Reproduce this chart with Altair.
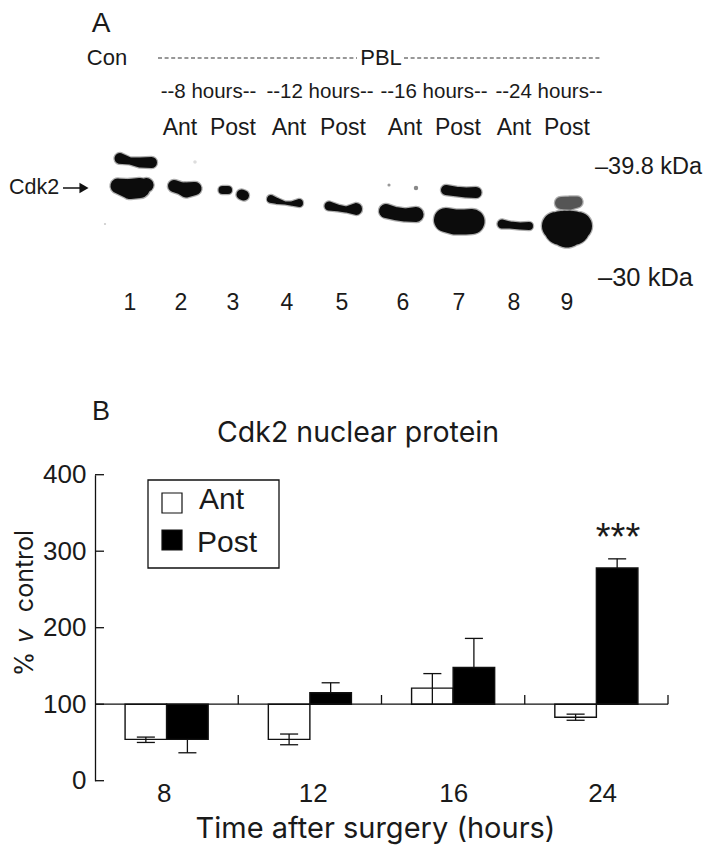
import altair as alt
import pandas as pd
import math

# ---------- Panel B values ----------
hours = ["8", "12", "16", "24"]
ant_values = [54, 54, 121, 83]
post_values = [54, 115, 148, 278]
ant_err_lo = [50, 47, 100, 79]
ant_err_hi = [57, 61, 140, 87]
post_err_lo = [36.5, 115, 148, 278]
post_err_hi = [54, 128, 186, 290]
cap_groups = [0, 0, 0, 1, 1, 1, 2, 2, 3, 3, 3]
cap_series = ["Ant", "Ant", "Post", "Ant", "Ant", "Post", "Ant", "Post", "Ant", "Ant", "Post"]
cap_values = [57, 50, 36.5, 61, 47, 128, 140, 186, 87, 79, 290]
y_ticks = [0, 100, 200, 300, 400]
x_ticks = [1, 2, 3, 4]
x_label_pos = [0.48, 1.52, 2.50, 3.54]

# ---------- Panel A: blot bands (band id, x, y, thickness) ----------
band_id = ["1u"] * 4 + ["1m"] * 4 + ["2"] * 4 + ["3a"] * 2 + ["3b"] * 2 + ["4"] * 5 + ["5"] * 4 \
    + ["6"] * 4 + ["7u"] * 4 + ["7m"] * 4 + ["8"] * 4 + ["9t"] * 3 + ["9"] * 5
band_x = [120, 130, 140, 151.5,  118, 130, 140, 146.5,  174, 180, 186, 195,
          222.5, 228,  241.5, 244,  271, 277, 285, 292, 299,  329, 338, 346, 356,
          386, 395, 405, 416,  446, 456, 466, 476,  446, 455, 465, 472,
          502, 510, 520, 529,  561, 570, 577,  556, 561, 567, 573, 578]
band_y = [158.5, 161, 162.5, 162.5,  186, 189, 188, 185,  186, 188, 190, 188.5,
          190, 190,  194.5, 195.5,  199, 201, 203, 203.5, 203,  206, 208, 209.5, 209,
          211, 213.5, 215, 214.5,  190, 191.5, 192.5, 192.5,  220, 222, 222, 221.5,
          224, 225, 226, 226,  203, 203, 202,  226, 228, 229, 228, 226]
band_w = [11, 7, 10, 11,  15, 20, 20, 14,  12, 12, 15, 13,
          8, 8,  10, 10,  8, 6, 3, 4.5, 8,  9, 6.5, 6, 12,
          14, 13, 13, 15,  10, 9.5, 10, 11,  24, 25, 25, 25,
          9, 7, 7, 8,  12, 13, 11,  28, 34, 37, 34, 28]
band_shade = {"9t": "#555555"}
speck_x = [389, 416, 105, 195]
speck_y = [185, 188, 224, 162]
speck_d = [3.5, 5, 2.5, 4]
speck_shade = ["#999999", "#888888", "#cccccc", "#dddddd"]

# ---------- Panel A: text ----------
FONT = "Liberation Sans"
FONT_W = "Inter"
top_text = ["Con", "PBL"]
top_x = [107, 381]
hour_text = ["--8 hours--", "--12 hours--", "--16 hours--", "--24 hours--"]
hour_x = [208.5, 320, 434, 549]
lane_head = ["Ant", "Post", "Ant", "Post", "Ant", "Post", "Ant", "Post"]
lane_head_x = [180, 233, 289, 343, 405, 458, 514, 567]
lane_no = ["1", "2", "3", "4", "5", "6", "7", "8", "9"]
lane_no_x = [130, 181, 233, 287, 342, 403, 459, 514, 567]
mw_text = ["\u201339.8 kDa", "\u201330 kDa"]
mw_x = [595, 598]
mw_y = [167, 278]
mw_size = [23.5, 25.5]
dash_x = [158, 404]
dash_x2 = [357, 602]

# ---------- scales ----------
IMG_X = alt.Scale(domain=[0, 713], range=[-8, 705])
IMG_Y = alt.Scale(domain=[0, 853], range=[-8, 845])
BAR_X = alt.Scale(domain=[0, 4], range=[87, 660])
BAR_Y = alt.Scale(domain=[0, 400], range=[772.7, 466.7])
INK = "#1a1a1a"


def ix(f="x"):
    return alt.X(f"{f}:Q", scale=IMG_X, axis=None)


def iy(f="y"):
    return alt.Y(f"{f}:Q", scale=IMG_Y, axis=None)


def bx(f="x"):
    return alt.X(f"{f}:Q", scale=BAR_X, axis=None)


def by(f="y"):
    return alt.Y(f"{f}:Q", scale=BAR_Y, axis=None)


def text_layer(texts, xs, ys, size, font=FONT, align="center"):
    df = pd.DataFrame({"t": texts, "x": xs, "y": ys})
    return alt.Chart(df).mark_text(
        font=font, fontSize=size, align=align, baseline="middle", color=INK
    ).encode(x=ix(), y=iy(), text="t:N")


gel = pd.DataFrame({"band": band_id, "x": band_x, "y": band_y, "w": band_w})
gel["i"] = range(len(gel))
gel["halo"] = gel["w"] + 2.5
gel["shade"] = gel["band"].map(band_shade).fillna("#0c0c0c")
specks = pd.DataFrame({"x": speck_x, "y": speck_y, "d": speck_d, "shade": speck_shade})
specks["area"] = specks["d"] ** 2 * math.pi / 4

halo = alt.Chart(gel).mark_trail(opacity=0.4, color="#333333").encode(
    x=ix(), y=iy(), size=alt.Size("halo:Q", scale=None, legend=None),
    detail="band:N", order=alt.Order("i:Q"))
core = alt.Chart(gel).mark_trail(opacity=1).encode(
    x=ix(), y=iy(), size=alt.Size("w:Q", scale=None, legend=None),
    detail="band:N", order=alt.Order("i:Q"),
    color=alt.Color("shade:N", scale=None))
speck = alt.Chart(specks).mark_circle(opacity=1).encode(
    x=ix(), y=iy(), size=alt.Size("area:Q", scale=None, legend=None),
    color=alt.Color("shade:N", scale=None))

dashes = alt.Chart(pd.DataFrame({"x": dash_x, "x2": dash_x2, "y": [58, 58]})).mark_rule(
    color="#333333", strokeWidth=1.2, strokeDash=[4, 2.6]).encode(x=ix(), x2="x2:Q", y=iy())

arrow_line = alt.Chart(pd.DataFrame({"x": [63], "x2": [84], "y": [188]})).mark_rule(
    color="#111111", strokeWidth=1.5).encode(x=ix(), x2="x2:Q", y=iy())
arrow_head = alt.Chart(pd.DataFrame({"x": [84], "y": [188]})).mark_point(
    shape="triangle-right", filled=True, color="#111111", opacity=1, size=110).encode(x=ix(), y=iy())

panel_a = [
    text_layer(["A"], [101], [24], 28),
    text_layer(top_text, top_x, [58, 58], 22),
    dashes,
    text_layer(hour_text, hour_x, [92] * 4, 20.5),
    text_layer(lane_head, lane_head_x, [128] * 8, 23),
    halo, core, speck,
    text_layer(["Cdk2"], [9], [188], 21.5, align="left"),
    arrow_line, arrow_head,
    text_layer(mw_text[:1], mw_x[:1], mw_y[:1], mw_size[0], align="left"),
    text_layer(mw_text[1:], mw_x[1:], mw_y[1:], mw_size[1], align="left"),
    text_layer(lane_no, lane_no_x, [303] * 9, 23),
]

# ---------- Panel B ----------
bars = pd.DataFrame({
    "x": [g + 0.21 for g in range(4)] + [g + 0.5 for g in range(4)],
    "x2": [g + 0.5 for g in range(4)] + [g + 0.79 for g in range(4)],
    "y": ant_values + post_values,
    "base": [100] * 8,
    "series": ["Ant"] * 4 + ["Post"] * 4,
})
fills = alt.Scale(domain=["Ant", "Post"], range=["#ffffff", "#000000"])
bar_layer = alt.Chart(bars).mark_rect(stroke="#111111", strokeWidth=1.4).encode(
    x=bx(), x2="x2:Q", y=by(), y2="base:Q",
    fill=alt.Fill("series:N", scale=fills, legend=None))

stems = pd.DataFrame({
    "x": [g + 0.355 for g in range(4)] + [g + 0.645 for g in range(4)],
    "lo": ant_err_lo + post_err_lo,
    "hi": ant_err_hi + post_err_hi,
})
stem_layer = alt.Chart(stems).mark_rule(color="#111111", strokeWidth=1.3).encode(
    x=bx(), y=by("lo"), y2="hi:Q")

caps = pd.DataFrame({"g": cap_groups, "series": cap_series, "v": cap_values})
caps["cx"] = caps["g"] + caps["series"].map({"Ant": 0.355, "Post": 0.645})
cap_layer = alt.Chart(caps).transform_calculate(
    a="datum.cx - 0.063", b="datum.cx + 0.063"
).mark_rule(color="#111111", strokeWidth=1.3).encode(x=bx("a"), x2="b:Q", y=by("v"))

base_line = alt.Chart(pd.DataFrame({"x": [0], "x2": [4], "y": [100]})).mark_rule(
    color="#111111", strokeWidth=1.3).encode(x=bx(), x2="x2:Q", y=by())
up_ticks = alt.Chart(pd.DataFrame({"x": x_ticks, "y": [100] * 4, "y2": [112] * 4})).mark_rule(
    color="#111111", strokeWidth=1.3).encode(x=bx(), y=by(), y2="y2:Q")
y_tick_rules = alt.Chart(pd.DataFrame({"y": y_ticks, "x": [0] * 5, "x2": [0.063] * 5})).mark_rule(
    color="#111111", strokeWidth=1.3).encode(x=bx(), x2="x2:Q", y=by())

y_axis = alt.Chart(pd.DataFrame({"y": y_ticks})).mark_point(opacity=0).encode(
    y=alt.Y("y:Q", scale=BAR_Y, axis=alt.Axis(
        orient="left", offset=-87, values=y_ticks, grid=False, ticks=False, title=None,
        labelFont=FONT, labelFontSize=26, labelColor=INK, labelPadding=9,
        domainColor="#111111", domainWidth=1.3)))
x_axis = alt.Chart(pd.DataFrame({"x": x_label_pos})).mark_point(opacity=0).encode(
    x=alt.X("x:Q", scale=BAR_X, axis=alt.Axis(
        orient="bottom", offset=-65.3, values=x_label_pos, grid=False, ticks=False, domain=False,
        labelExpr="['" + "','".join(hours) + "'][round(datum.index*3)]",
        labelFont=FONT, labelFontSize=26, labelColor=INK, labelPadding=1,
        title="Time after surgery (hours)", titleFont=FONT_W, titleFontSize=29,
        titleFontWeight="normal", titleColor=INK, titleX=367, titleY=49,
        titleBaseline="middle", labelFlush=False)))

legend_box = alt.Chart(pd.DataFrame({"x": [148], "x2": [279], "y": [480], "y2": [568]})).mark_rect(
    fill="white", stroke="#111111", strokeWidth=1.3).encode(x=ix(), x2="x2:Q", y=iy(), y2="y2:Q")
swatches = alt.Chart(pd.DataFrame({
    "x": [162, 162], "x2": [182, 182], "y": [493, 530], "y2": [513, 550], "series": ["Ant", "Post"]
})).mark_rect(stroke="#111111", strokeWidth=1.2).encode(
    x=ix(), x2="x2:Q", y=iy(), y2="y2:Q", fill=alt.Fill("series:N", scale=fills, legend=None))


def rot_text(t, y, italic=False, size=25):
    df = pd.DataFrame({"t": [t], "x": [33], "y": [y]})
    kw = {"fontStyle": "italic"} if italic else {}
    return alt.Chart(df).mark_text(
        font=FONT_W, fontSize=size, angle=270, align="center", baseline="alphabetic",
        color=INK, **kw).encode(x=ix(), y=iy(), text="t:N")


panel_b = [
    text_layer(["B"], [101], [412], 27),
    text_layer(["Cdk2 nuclear protein"], [358], [433], 28.5, font=FONT_W),
    bar_layer, stem_layer, cap_layer, base_line, up_ticks, y_tick_rules, y_axis, x_axis,
    legend_box, swatches,
    text_layer(["Ant"], [199], [500], 30, align="left"),
    text_layer(["Post"], [197], [543], 30, align="left"),
    text_layer(["***"], [618], [539], 38),
    rot_text("%", 664), rot_text("v", 636, italic=True), rot_text("control", 571),
]

chart = alt.layer(*panel_a, *panel_b).resolve_scale(
    x="independent", y="independent", fill="independent", size="independent", color="independent"
).resolve_axis(x="independent", y="independent").properties(
    width=697, height=837, padding=0, background="white",
    autosize=alt.AutoSizeParams(type="none", contains="content"),
).configure_view(stroke=None)

chart.save("out.html", embed_options={"renderer": "svg", "actions": False})
